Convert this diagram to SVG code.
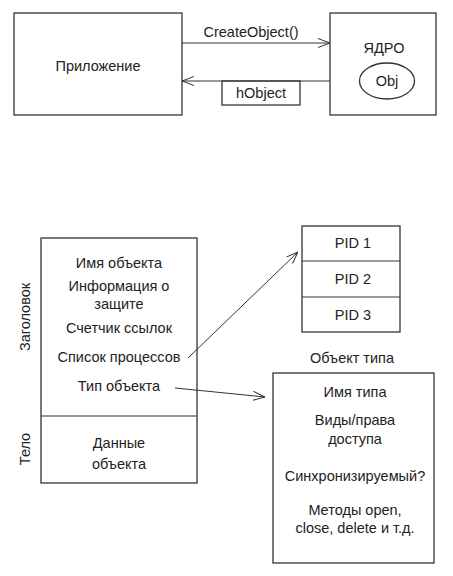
<svg xmlns="http://www.w3.org/2000/svg" width="453" height="576" viewBox="0 0 453 576">
<defs>
<style>
.box{fill:#fff;stroke:#333;stroke-width:1.3}
.ln{fill:none;stroke:#333;stroke-width:1}
text{font-family:"Liberation Sans","DejaVu Sans",sans-serif;font-size:14.5px;fill:#222;text-anchor:middle}
</style>
<marker id="arr" viewBox="0 0 12 10" refX="12" refY="5" markerWidth="12" markerHeight="10" markerUnits="userSpaceOnUse" orient="auto">
<path d="M0,0.5 L12,5 L0,9.5" fill="none" stroke="#333" stroke-width="1"/>
</marker>
</defs>
<rect width="453" height="576" fill="#fff"/>
<g id="app">
<rect class="box" x="14" y="13" width="168" height="102"/>
<text x="98" y="71">Приложение</text>
</g>
<g id="kernel">
<rect class="box" x="330" y="13" width="106" height="102"/>
<text x="384" y="53">ЯДРО</text>
<ellipse class="box" cx="387" cy="81" rx="27.5" ry="18"/>
<text x="387" y="86">Obj</text>
</g>
<g id="hobject">
<rect class="box" x="222" y="81" width="78" height="24"/>
<text x="261" y="98">hObject</text>
</g>
<g id="object">
<rect class="box" x="41" y="238" width="156" height="245"/>
<line class="ln" x1="41" y1="416" x2="197" y2="416"/>
<text x="119" y="268">Имя объекта</text>
<text x="119" y="291">Информация о</text>
<text x="119" y="309">защите</text>
<text x="119" y="333">Счетчик ссылок</text>
<text x="119" y="362">Список процессов</text>
<text x="119" y="391">Тип объекта</text>
<text x="119" y="448">Данные</text>
<text x="119" y="469">объекта</text>
<text transform="translate(30,317) rotate(-90)">Заголовок</text>
<text transform="translate(30,449) rotate(-90)">Тело</text>
</g>
<g id="pids">
<rect class="box" x="302" y="226" width="98" height="106"/>
<line class="ln" x1="302" y1="261" x2="400" y2="261"/>
<line class="ln" x1="302" y1="297" x2="400" y2="297"/>
<text x="353" y="248">PID 1</text>
<text x="353" y="284">PID 2</text>
<text x="353" y="320">PID 3</text>
</g>
<g id="typeobj">
<text x="352" y="363">Объект типа</text>
<rect class="box" x="273" y="373" width="161" height="190"/>
<text x="355" y="397">Имя типа</text>
<text x="355" y="425">Виды/права</text>
<text x="355" y="444">доступа</text>
<text x="355" y="481">Синхронизируемый?</text>
<text x="355" y="515">Методы open,</text>
<text x="355" y="533">close, delete и т.д.</text>
</g>
<g id="connectors">
<line class="ln" x1="182" y1="43" x2="330" y2="43" marker-end="url(#arr)"/>
<text x="251" y="37">CreateObject()</text>
<line class="ln" x1="330" y1="81" x2="182" y2="81" marker-end="url(#arr)"/>
<line class="ln" x1="188" y1="358" x2="298" y2="252" marker-end="url(#arr)"/>
<line class="ln" x1="175" y1="388" x2="265" y2="397" marker-end="url(#arr)"/>
</g>
</svg>
